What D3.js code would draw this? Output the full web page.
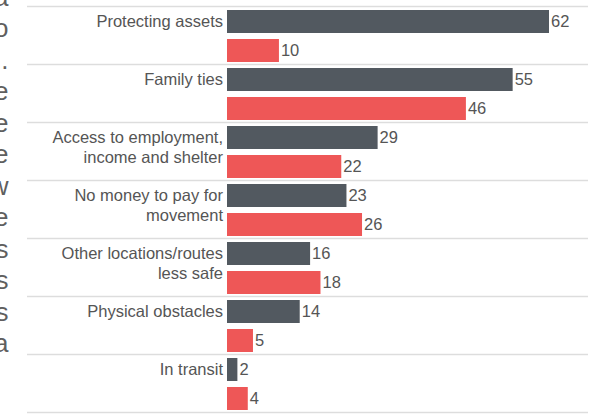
<!DOCTYPE html>
<html>
<head>
<meta charset="utf-8">
<script src="https://cdn.jsdelivr.net/npm/d3@7"></script>
<style>
  html, body { margin: 0; padding: 0; background: #fff; }
  svg { display: block; }
  text { font-family: "Liberation Sans", Arial, Helvetica, sans-serif; }
</style>
</head>
<body>
<svg id="chart" width="596" height="415"></svg>
<script>
// ---- data ----
const categories = [
  "Protecting assets",
  "Family ties",
  "Access to employment,|income and shelter",
  "No money to pay for|movement",
  "Other locations/routes|less safe",
  "Physical obstacles",
  "In transit"
];
const seriesNames = ["Series A", "Series B"];
const seriesA = [62, 55, 29, 23, 16, 14, 2];
const seriesB = [10, 46, 22, 26, 18, 5, 4];
// clipped line-ends of the neighbouring paragraph text at the left edge
const marginChars = ["a", "o", ".", "e", "e", "e", "w", "e", "s", "s", "s", "a"];

const colors = ["#525960", "#ee5757"];

const svg = d3.select("#chart");

// ---- scales ----
const x = d3.scaleLinear().domain([0, 62]).range([227, 549]);
const y = d3.scaleBand().domain(categories).range([6.5, 412.5]).padding(0);
const yInner = d3.scaleBand().domain(seriesNames).range([3.5, 55.5]).paddingInner(6 / 29).paddingOuter(0);

// ---- margin paragraph fragments ----
svg.append("g")
  .selectAll("text")
  .data(marginChars)
  .join("text")
  .attr("x", 8.5)
  .attr("y", (d, i) => 6 + i * 31.45)
  .attr("text-anchor", "end")
  .attr("font-size", 26)
  .attr("fill", "#5f5f5f")
  .text(d => d);

// ---- separator lines ----
const lines = categories.map(c => y(c)).concat([y.range()[1]]);
svg.append("g")
  .selectAll("line")
  .data(lines)
  .join("line")
  .attr("x1", 27).attr("x2", 588)
  .attr("y1", d => d).attr("y2", d => d)
  .attr("stroke", "#dddddd")
  .attr("stroke-width", 1.5);

// ---- groups ----
const rows = categories.map((c, i) => ({
  cat: c,
  vals: [
    { s: seriesNames[0], v: seriesA[i], k: 0 },
    { s: seriesNames[1], v: seriesB[i], k: 1 }
  ]
}));

const g = svg.append("g")
  .selectAll("g")
  .data(rows)
  .join("g")
  .attr("transform", d => `translate(0,${y(d.cat)})`);

g.selectAll("rect")
  .data(d => d.vals)
  .join("rect")
  .attr("x", x(0))
  .attr("y", d => yInner(d.s))
  .attr("width", d => x(d.v) - x(0))
  .attr("height", yInner.bandwidth())
  .attr("fill", d => colors[d.k]);

g.selectAll("text.val")
  .data(d => d.vals)
  .join("text")
  .attr("class", "val")
  .attr("x", d => x(d.v) + 2)
  .attr("y", d => yInner(d.s) + yInner.bandwidth() / 2 + 5.8)
  .attr("font-size", 16.5)
  .attr("fill", "#555")
  .text(d => d.v);

// category labels
g.append("text")
  .attr("text-anchor", "end")
  .attr("font-size", 16.5)
  .attr("fill", "#555")
  .each(function(d) {
    const parts = d.cat.split("|");
    const t = d3.select(this);
    parts.forEach((p, j) => {
      t.append("tspan")
        .attr("x", 223)
        .attr("y", yInner(seriesNames[0]) + yInner.bandwidth() / 2 + 5.6 + j * 19.6)
        .text(p);
    });
  });
</script>
</body>
</html>
